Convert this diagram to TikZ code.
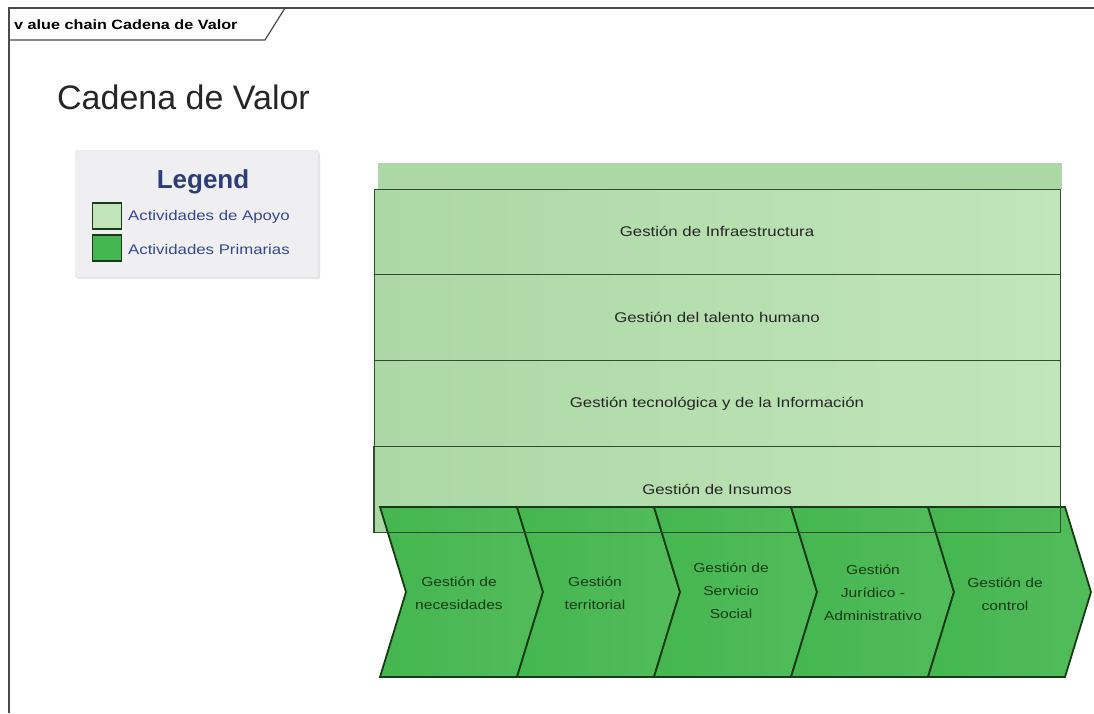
\documentclass[tikz,border=0pt]{standalone}
\usepackage{fontspec}
\setmainfont{Liberation Sans}
\newfontfamily\widesans[FakeStretch=1.2]{Liberation Sans}
\usetikzlibrary{shadows}

\definecolor{apoyo}{HTML}{ABD8A4}
\definecolor{apoyolight}{HTML}{C2E5BB}
\definecolor{apoyoband}{HTML}{ACD8A5}
\definecolor{primaria}{HTML}{45B650}
\definecolor{primarialight}{HTML}{52BC5B}
\definecolor{chevline}{HTML}{173A17}
\definecolor{legendfill}{HTML}{EFEFF1}
\definecolor{legendblue}{HTML}{2C3D78}
\definecolor{legendtext}{HTML}{34488F}
\definecolor{framegray}{HTML}{4A4A4A}

\begin{document}
\begin{tikzpicture}[x=1pt,y=-1pt,
	rowbox/.style={draw=chevline!90,line width=1pt,left color=apoyo,right color=apoyolight,
		minimum width=686pt,minimum height=85.75pt,inner sep=0pt,
		font=\widesans\fontsize{14}{16}\selectfont,text=black!85},
	chevron/.style={draw=chevline,line width=1.8pt,line join=miter,left color=primaria,right color=primarialight},
	chevtext/.style={align=center,inner sep=0pt,text=chevline,font=\widesans\fontsize{13}{23}\selectfont},
	swatch/.style={draw=chevline,line width=1.4pt,minimum width=29pt,minimum height=26pt,inner sep=0pt}]
	\useasboundingbox (0,0) rectangle (1094,713);
	
	% frame and tab
	\draw[framegray,line width=1.6pt] (9,713) -- (9,8) -- (1094,8);
	\draw[framegray,line width=1.2pt] (9,40) -- (265,40) -- (285,8);
	\node[anchor=base west,inner sep=0pt] (tablabel) at (14,29.5) {\widesans\bfseries\fontsize{13.5}{15}\selectfont v alue chain Cadena de Valor};
	
	% title
	\node[anchor=base west,inner sep=0pt,text=black!85] (title) at (57,109) {\fontsize{34}{40}\selectfont Cadena de Valor};
	
	% legend
	\node[draw=black!15,fill=legendfill,rounded corners=2pt,minimum width=243pt,minimum height=127pt,
		drop shadow={opacity=0.2,shadow xshift=1.5pt,shadow yshift=-1.5pt}] (legend) at (197,214) {};
	\node[text=legendblue,font=\bfseries\fontsize{26}{28}\selectfont] (legendtitle) at (203,182) {Legend};
	\node[swatch,fill=apoyolight] (swapoyo) at (107,216) {};
	\node[swatch,fill=primaria] (swprimaria) at (107,248) {};
	\node[anchor=west,inner sep=0pt,text=legendtext,font=\widesans\fontsize{14}{16}\selectfont] (txapoyo) at (128,217) {Actividades de Apoyo};
	\node[anchor=west,inner sep=0pt,text=legendtext,font=\widesans\fontsize{14}{16}\selectfont] (txprimaria) at (128,249) {Actividades Primarias};
	
	% actividades de apoyo
	\node[fill=apoyoband,minimum width=684pt,minimum height=26pt,inner sep=0pt] (band) at (720,176) {};
	\node[rowbox] (infra) at (717,231.875) {Gestión de Infraestructura};
	\node[rowbox] (talento) at (717,317.625) {Gestión del talento humano};
	\node[rowbox] (tecno) at (717,403.375) {Gestión tecnológica y de la Información};
	\node[rowbox] (insumos) at (717,489.125) {};
	
	% actividades primarias
	\foreach \i in {0,...,4}
		\draw[chevron] ({380+137*\i},507) -- ++(137,0) -- ++(26,85) -- ++(-26,85) -- ++(-137,0) -- ++(26,-85) -- cycle;
	\node[chevtext] (necesidades) at (459,593) {Gestión de\\necesidades};
	\node[chevtext] (territorial) at (595,593) {Gestión\\territorial};
	\node[chevtext] (servicio) at (731,591) {Gestión de\\Servicio\\Social};
	\node[chevtext] (juridico) at (873,593) {Gestión\\Jurídico -\\Administrativo};
	\node[chevtext] (control) at (1005,594) {Gestión de\\control};
	
	% borde de apoyo sobre los chevrones
	\draw[chevline!90,line width=1pt] (insumos.north west) -- (insumos.south west) -- (insumos.south east) -- (insumos.north east);
	\node[text=black!85,font=\widesans\fontsize{14}{16}\selectfont,inner sep=0pt] (insumostxt) at (717,489) {Gestión de Insumos};
\end{tikzpicture}
\end{document}
